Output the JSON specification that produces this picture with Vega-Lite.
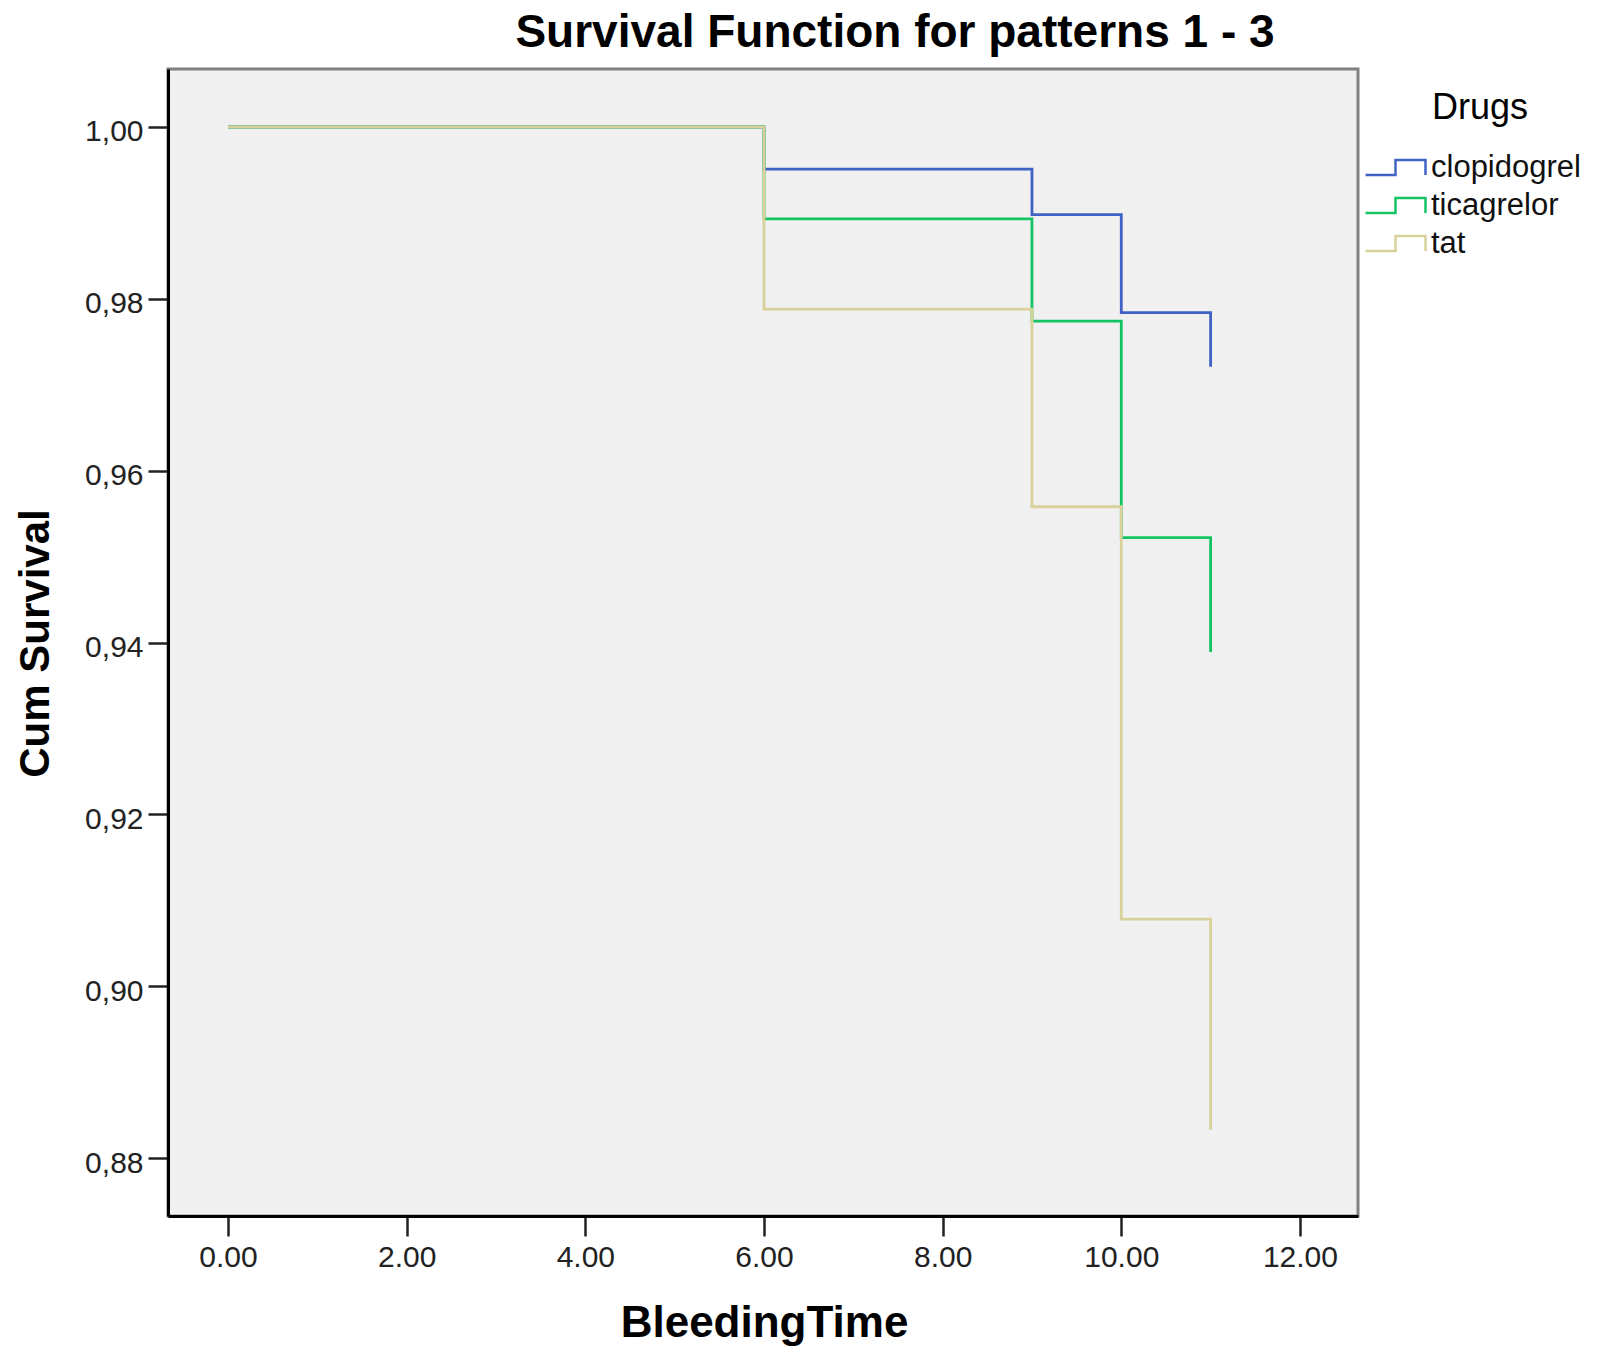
{
  "$schema": "https://vega.github.io/schema/vega-lite/v6.json",
  "description": "Kaplan-Meier survival function by drug",
  "autosize": {"type": "none"},
  "padding": {"left": 168, "top": 69, "right": 241, "bottom": 145},
  "width": 1190,
  "height": 1147,
  "background": "white",
  "title": {
    "text": "Survival Function for patterns 1 - 3",
    "anchor": "middle",
    "frame": "group",
    "dx": 132,
    "baseline": "alphabetic",
    "offset": -24,
    "fontSize": 46,
    "fontWeight": "bold",
    "font": "Liberation Sans",
    "color": "#000000"
  },
  "data": {
    "values": [
      {"drug": "clopidogrel", "time": 0, "survival": 1.0},
      {"drug": "clopidogrel", "time": 6, "survival": 0.9951},
      {"drug": "clopidogrel", "time": 9, "survival": 0.9898},
      {"drug": "clopidogrel", "time": 10, "survival": 0.9784},
      {"drug": "clopidogrel", "time": 11, "survival": 0.9721},
      {"drug": "ticagrelor", "time": 0, "survival": 1.0},
      {"drug": "ticagrelor", "time": 6, "survival": 0.9893},
      {"drug": "ticagrelor", "time": 9, "survival": 0.9774},
      {"drug": "ticagrelor", "time": 10, "survival": 0.9522},
      {"drug": "ticagrelor", "time": 11, "survival": 0.9389},
      {"drug": "tat", "time": 0, "survival": 1.0},
      {"drug": "tat", "time": 6, "survival": 0.9788},
      {"drug": "tat", "time": 9, "survival": 0.9558},
      {"drug": "tat", "time": 10, "survival": 0.9078},
      {"drug": "tat", "time": 11, "survival": 0.8833}
    ]
  },
  "mark": {"type": "line", "interpolate": "step-after", "strokeWidth": 2.8},
  "encoding": {
    "x": {
      "field": "time",
      "type": "quantitative",
      "title": "BleedingTime",
      "scale": {"domain": [-0.672, 12.65], "nice": false, "zero": false},
      "axis": {
        "values": [0, 2, 4, 6, 8, 10, 12],
        "format": ".2f",
        "labelBaseline": "alphabetic",
        "labelPadding": 30,
        "titleX": 596,
        "titleY": 120,
        "titleBaseline": "alphabetic",
        "titleFontSize": 44
      }
    },
    "y": {
      "field": "survival",
      "type": "quantitative",
      "title": "Cum Survival",
      "scale": {"domain": [0.87325, 1.00675], "nice": false, "zero": false},
      "axis": {
        "values": [0.88, 0.9, 0.92, 0.94, 0.96, 0.98, 1.0],
        "labelExpr": "replace(format(datum.value, '.2f'), '.', ',')",
        "labelPadding": 5,
        "labelOffset": 5,
        "titleX": -120,
        "titleY": 574,
        "titleBaseline": "alphabetic",
        "titleAngle": 270
      }
    },
    "color": {
      "field": "drug",
      "type": "nominal",
      "sort": ["clopidogrel", "ticagrelor", "tat"],
      "scale": {
        "domain": ["clopidogrel", "ticagrelor", "tat"],
        "range": ["#3f62c4", "#14c462", "#d8d19a"]
      },
      "legend": {
        "title": "Drugs",
        "orient": "none",
        "legendX": 1211,
        "legendY": 22,
        "padding": 0,
        "symbolType": "M-2,0.5H0V-0.5H2V0.5",
        "symbolSize": 900,
        "symbolStrokeWidth": 2.5,
        "labelOffset": 19,
        "rowPadding": 6,
        "titlePadding": 24,
        "titleAnchor": "middle",
        "titleAlign": "center"
      }
    }
  },
  "config": {
    "font": "Liberation Sans",
    "view": {"fill": "#f0f0f0", "stroke": "#808080", "strokeWidth": 3},
    "axis": {
      "grid": false,
      "domainColor": "#000000",
      "domainWidth": 3,
      "tickColor": "#222222",
      "tickWidth": 2.5,
      "tickSize": 20,
      "labelFont": "Liberation Sans",
      "labelFontSize": 30,
      "labelColor": "#222222",
      "titleFont": "Liberation Sans",
      "titleFontSize": 42,
      "titleFontWeight": "bold",
      "titleColor": "#000000"
    },
    "legend": {
      "labelFont": "Liberation Sans",
      "labelFontSize": 31,
      "labelColor": "#111111",
      "titleFont": "Liberation Sans",
      "titleFontSize": 36,
      "titleFontWeight": "normal",
      "titleColor": "#000000"
    }
  }
}
